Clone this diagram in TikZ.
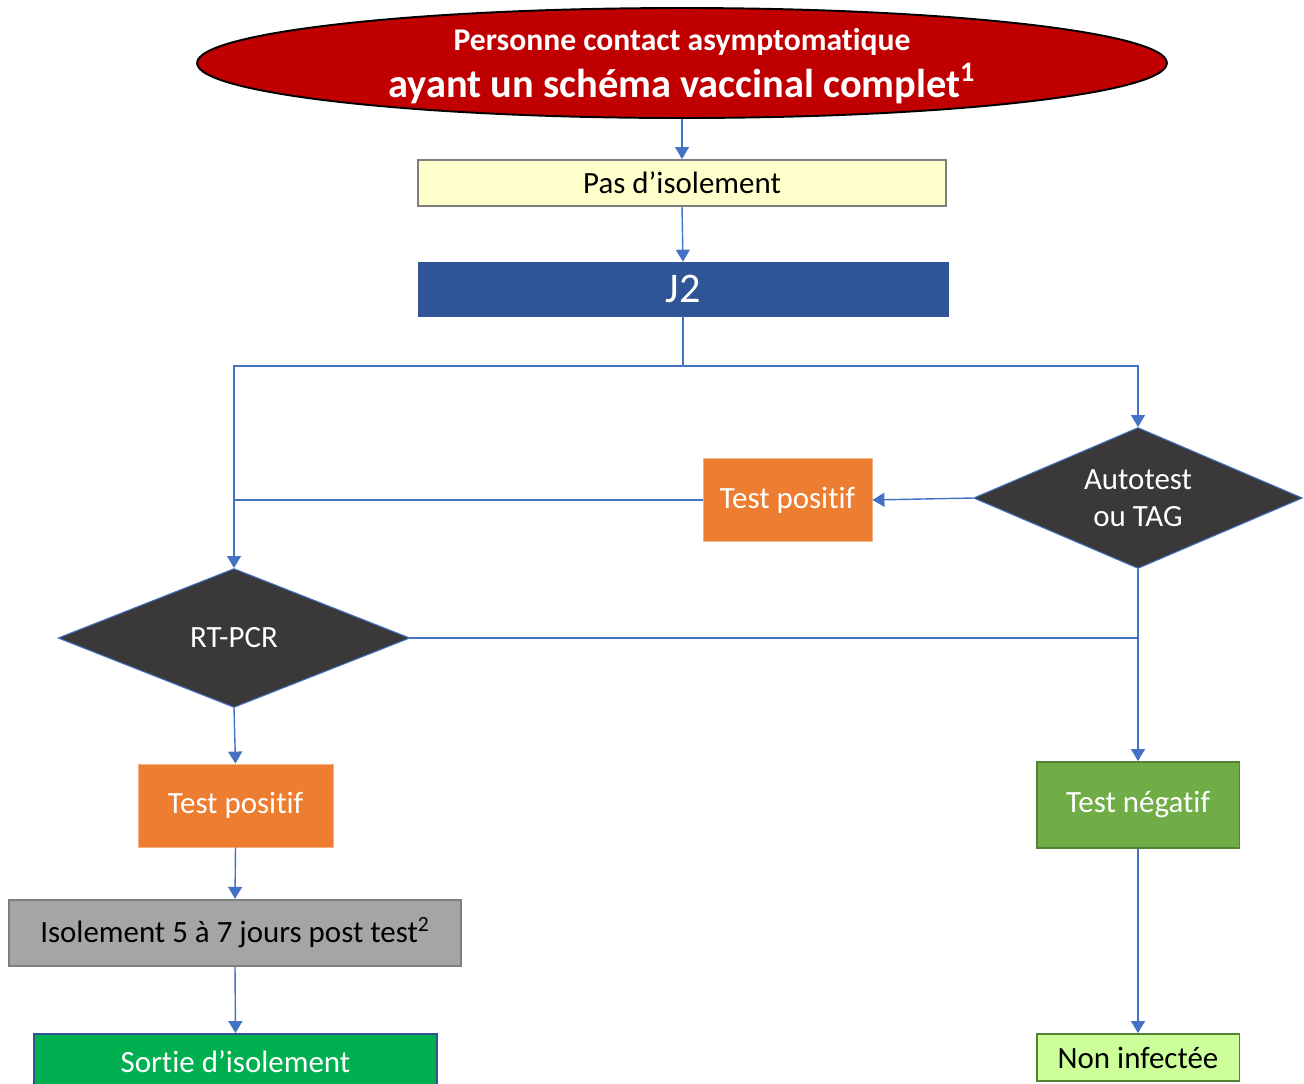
\documentclass[tikz,border=0pt]{standalone}
\usepackage{fontspec}
\setmainfont[Ligatures=NoCommon]{Carlito}
\usetikzlibrary{shapes.geometric,arrows.meta}
\definecolor{conn}{HTML}{4472C4}
\definecolor{titlered}{HTML}{C00000}
\definecolor{paleyellow}{HTML}{FFFFCC}
\definecolor{boxgrey}{HTML}{7F7F7F}
\definecolor{jblue}{HTML}{2F5597}
\definecolor{dark}{HTML}{3A3838}
\definecolor{orange}{HTML}{ED7D31}
\definecolor{orangeb}{HTML}{F4B183}
\definecolor{midgrey}{HTML}{A5A5A5}
\definecolor{vert}{HTML}{00B050}
\definecolor{vertn}{HTML}{70AD47}
\definecolor{vertb}{HTML}{548235}
\definecolor{palegreen}{HTML}{CCFF99}
\begin{document}
\begin{tikzpicture}[x=0.02cm,y=-0.02cm,
  every node/.style={inner sep=0pt, font=\fontsize{17.6}{21}\selectfont},
  rbox/.style={rectangle, align=center},
  dia/.style={diamond, fill=dark, draw=conn, line width=0.6pt, text=white, align=center},
  arr/.style={draw=conn, line width=0.8pt, -{Triangle[width=0.28cm,length=0.24cm]}},
  ln/.style={draw=conn, line width=0.8pt}]
\useasboundingbox (0,0) rectangle (1304,1083);
\clip (0,0) rectangle (1304,1083);

\node[ellipse, fill=titlered, draw=black, line width=1.1pt, minimum width=19.4cm, minimum height=2.2cm] (title) at (682,63) {};
\node[text=white, align=center] (titletext) at (682,66)
  {{\fontsize{18}{22}\selectfont\bfseries Personne contact asymptomatique}\\[3pt]
   {\fontsize{23}{26}\selectfont\bfseries ayant un schéma vaccinal complet\textsuperscript{1}}};

\node[rbox, fill=paleyellow, draw=boxgrey, line width=1.1pt, minimum width=10.56cm, minimum height=0.92cm] (pas) at (682,183) {Pas d’isolement};

\node[rbox, fill=jblue, draw=jblue, minimum width=10.6cm, minimum height=1.08cm, text=white, font=\fontsize{24}{28}\selectfont] (j2) at (683,289) {J2};

\node[dia, minimum width=6.58cm, minimum height=2.82cm, aspect=2.33] (auto) at (1138,498) {Autotest\\ou TAG};

\node[rbox, fill=orange, draw=orangeb, line width=0.5pt, minimum width=3.38cm, minimum height=1.66cm, text=white] (tp1) at (787.5,500) {Test positif};

\node[dia, minimum width=7.04cm, minimum height=2.78cm, aspect=2.5] (rt) at (234,638) {RT-PCR};

\node[rbox, fill=orange, draw=orangeb, line width=0.5pt, minimum width=3.9cm, minimum height=1.66cm, text=white] (tp2) at (235.5,805.5) {Test positif};

\node[rbox, fill=midgrey, draw=boxgrey, line width=1.3pt, minimum width=9.04cm, minimum height=1.32cm] (iso) at (235,933) {Isolement 5 à 7 jours post test\textsuperscript{2}};

\node[rbox, fill=vert, draw=jblue, line width=1.1pt, minimum width=8.06cm, minimum height=1.12cm, text=white] (sortie) at (235.5,1062) {Sortie d’isolement};

\node[rbox, fill=vertn, draw=vertb, line width=1.1pt, minimum width=4.06cm, minimum height=1.72cm, text=white] (tn) at (1138,805) {Test négatif};

\node[rbox, fill=palegreen, draw=vertb, line width=1.1pt, minimum width=4.06cm, minimum height=0.94cm] (ni) at (1138,1057.5) {Non infectée};

\coordinate (split) at (683,366);
\coordinate (joinL) at (234,500);
\coordinate (joinR) at (1138,638);

\draw[arr] (title.south) -- (pas.north);
\draw[arr] (pas.south) -- (j2.north);
\draw[ln] (j2.south) -- (split);
\draw[arr] (split) -| (rt.north);
\draw[arr] (split) -| (auto.north);
\draw[arr] (auto.west) -- (tp1.east);
\draw[ln] (tp1.west) -- (joinL);
\draw[ln] (rt.east) -- (joinR);
\draw[arr] (auto.south) -- (tn.north);
\draw[arr] (rt.south) -- (tp2.north);
\draw[arr] (tp2.south) -- (iso.north);
\draw[arr] (iso.south) -- (sortie.north);
\draw[arr] (tn.south) -- (ni.north);
\end{tikzpicture}
\end{document}
